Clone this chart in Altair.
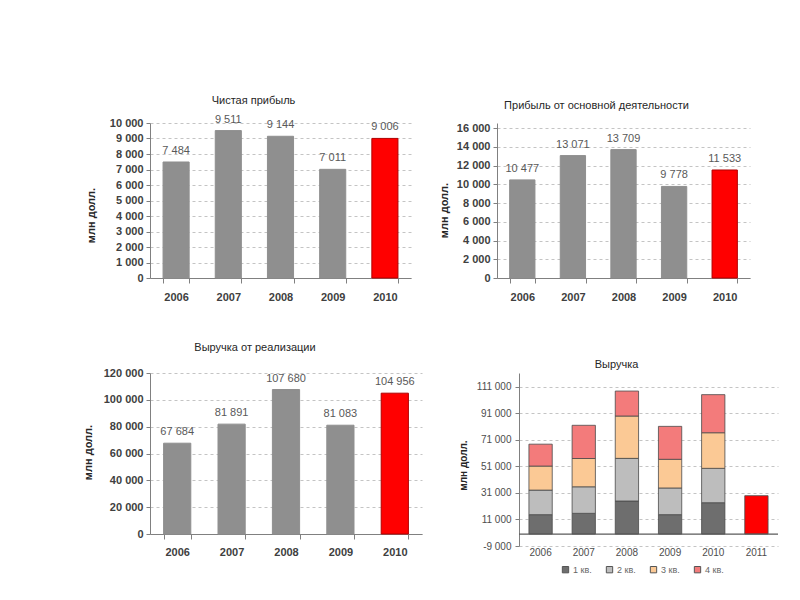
import altair as alt
import pandas as pd

FONT = "Liberation Sans"

# ---- data ----
years = ["2006", "2007", "2008", "2009", "2010"]
net_profit = [7484, 9511, 9144, 7011, 9006]
operating_profit = [10477, 13071, 13709, 9778, 11533]
sales_revenue = [67684, 81891, 107680, 81083, 104956]

q_years = ["2006", "2007", "2008", "2009", "2010", "2011"]
q_labels = ["1 кв.", "2 кв.", "3 кв.", "4 кв."]
q1 = [14600, 15600, 24900, 14600, 23600]
q2 = [18500, 20000, 32100, 20100, 25900]
q3 = [18100, 21300, 31900, 21600, 26800]
q4 = [16500, 25000, 18800, 24800, 28700]
q1_2011 = [28900]

ticks_p1 = [0, 1000, 2000, 3000, 4000, 5000, 6000, 7000, 8000, 9000, 10000]
ticks_p2 = [0, 2000, 4000, 6000, 8000, 10000, 12000, 14000, 16000]
ticks_p3 = [0, 20000, 40000, 60000, 80000, 100000, 120000]
ticks_p4 = [-9000, 11000, 31000, 51000, 71000, 91000, 111000]

q_colors = ["#6e6e6e", "#bdbdbd", "#fbc995", "#f37b7b"]
GRAY = "#8f8f8f"
RED = "#ff0000"
HIGHLIGHT = "2010"
Y_TITLE = "млн долл."


def bar_panel(values, title, title_dx, title_offset, w, h, ydomain, yticks,
              ytitle_x, ytitle_y, label_pad):
    df = pd.DataFrame({"year": years, "value": values})
    base = alt.Chart(df)
    x = alt.X(
        "year:N", sort=years,
        scale=alt.Scale(paddingInner=0.5, paddingOuter=0.25),
        axis=alt.Axis(title=None, labelAngle=0, labelFont=FONT, labelFontWeight="bold",
                      labelFontSize=11, labelColor="#404040", tickBand="extent",
                      tickSize=5, tickColor="#808080", domainColor="#808080",
                      labelPadding=label_pad, grid=False),
    )
    y = alt.Y(
        "value:Q",
        scale=alt.Scale(domain=ydomain, nice=False, zero=True),
        axis=alt.Axis(values=yticks, tickCount=len(yticks), format=",d", title=Y_TITLE,
                      titleFont=FONT, titleFontSize=11, titleFontWeight="bold",
                      titleColor="#262626", titleAngle=270, titleX=ytitle_x,
                      titleY=ytitle_y, titleAlign="center", titleBaseline="middle",
                      labelFont=FONT, labelFontSize=11, labelFontWeight="bold",
                      labelColor="#404040", tickSize=4, tickColor="#808080",
                      domainColor="#808080", labelPadding=3, labelOverlap=False,
                      grid=True, gridDash=[3, 3], gridColor="#c4c4c4"),
    )
    bars = base.mark_bar().encode(
        x=x, y=y,
        color=alt.condition(alt.datum.year == HIGHLIGHT, alt.value(RED), alt.value(GRAY)),
        stroke=alt.condition(alt.datum.year == HIGHLIGHT, alt.value("#b00000"), alt.value(GRAY)),
    )
    labels = base.mark_text(baseline="bottom", dy=-6, font=FONT, fontSize=11,
                            color="#595959").encode(
        x=alt.X("year:N", sort=years), y="value:Q",
        text=alt.Text("value:Q", format=",d"),
    )
    return (bars + labels).properties(
        width=w, height=h,
        title=alt.TitleParams(title, frame="group", anchor="middle", dx=title_dx,
                              offset=title_offset, font=FONT, fontSize=11,
                              fontWeight="normal", color="#262626"),
    )


p1 = bar_panel(net_profit, "Чистая прибыль", -27, 8, 261, 155,
               [0, 10000], ticks_p1, -59, 92, 8)
p2 = bar_panel(operating_profit, "Прибыль от основной деятельности", -27, 11, 253, 155,
               [0, 16550], ticks_p2, -53, 87, 8)
p3 = bar_panel(sales_revenue, "Выручка от реализации", -31, 14, 272, 161,
               [0, 120000], ticks_p3, -62, 79, 7)

# ---- stacked quarterly panel ----
rows = []
for i, yr in enumerate(years):
    for k, series in enumerate([q1, q2, q3, q4]):
        rows.append({"year": yr, "quarter": q_labels[k], "qi": k, "value": series[i]})
qdf = pd.DataFrame(rows)
df2011 = pd.DataFrame({"year": ["2011"], "value": q1_2011})
zero_df = pd.DataFrame({"value": [0]})

x4 = alt.X(
    "year:N", sort=q_years,
    scale=alt.Scale(domain=q_years, paddingInner=0.46, paddingOuter=0.23),
    axis=alt.Axis(title=None, labelAngle=0, labelFont=FONT, labelFontSize=10,
                  labelColor="#4d4d4d", ticks=False, domain=False, labelPadding=1,
                  grid=False),
)
y4 = alt.Y(
    "value:Q", stack="zero",
    scale=alt.Scale(domain=[-9000, 121300], nice=False, zero=False),
    axis=alt.Axis(values=ticks_p4, tickCount=len(ticks_p4), format=",d", title=Y_TITLE,
                  titleFont=FONT, titleFontSize=10, titleFontWeight="bold",
                  titleColor="#262626", titleAngle=270, titleX=-56, titleY=92,
                  titleAlign="center", titleBaseline="middle", labelFont=FONT,
                  labelFontSize=10, labelColor="#4d4d4d", tickSize=4,
                  tickColor="#808080", domainColor="#808080", labelPadding=4,
                  labelOverlap=False, grid=True, gridDash=[3, 3], gridColor="#c4c4c4"),
)
stack = alt.Chart(qdf).mark_bar(stroke="#4a4a4a", strokeWidth=0.8).encode(
    x=x4,
    y=y4,
    color=alt.Color(
        "quarter:N",
        scale=alt.Scale(domain=q_labels, range=q_colors),
        legend=alt.Legend(title=None, orient="none", legendX=42, legendY=192,
                          direction="horizontal", symbolType="square", symbolSize=40,
                          symbolStrokeColor="#555555", symbolStrokeWidth=1,
                          labelFont=FONT, labelFontSize=9, labelColor="#666666",
                          labelOffset=3, columnPadding=12),
    ),
    order=alt.Order("qi:Q", sort="ascending"),
)
bar2011 = alt.Chart(df2011).mark_bar(color=RED, stroke="#4a4a4a", strokeWidth=0.8).encode(
    x=alt.X("year:N", sort=q_years), y="value:Q"
)
zero_rule = alt.Chart(zero_df).mark_rule(color="#5a5a5a", strokeWidth=1.2).encode(y="value:Q")

p4 = alt.layer(stack, bar2011, zero_rule).properties(
    width=259, height=173,
    title=alt.TitleParams("Выручка", frame="group", anchor="middle", dx=-32, offset=3,
                          font=FONT, fontSize=11, fontWeight="normal", color="#262626"),
)

row1 = alt.hconcat(p1, p2, spacing=27)
row2 = alt.hconcat(p3, p4, spacing=36).resolve_scale(color="independent")
chart = alt.vconcat(row1, row2, spacing=40).resolve_scale(color="independent").properties(
    padding={"left": 74, "top": 86, "right": 5, "bottom": 5},
    background="white",
).configure(
    locale={"number": {"decimal": ",", "thousands": "\u00a0", "grouping": [3],
                       "currency": ["", ""], "minus": "-"}},
).configure_view(stroke=None)

chart.save("out.html", embed_options={"renderer": "svg", "actions": False})
